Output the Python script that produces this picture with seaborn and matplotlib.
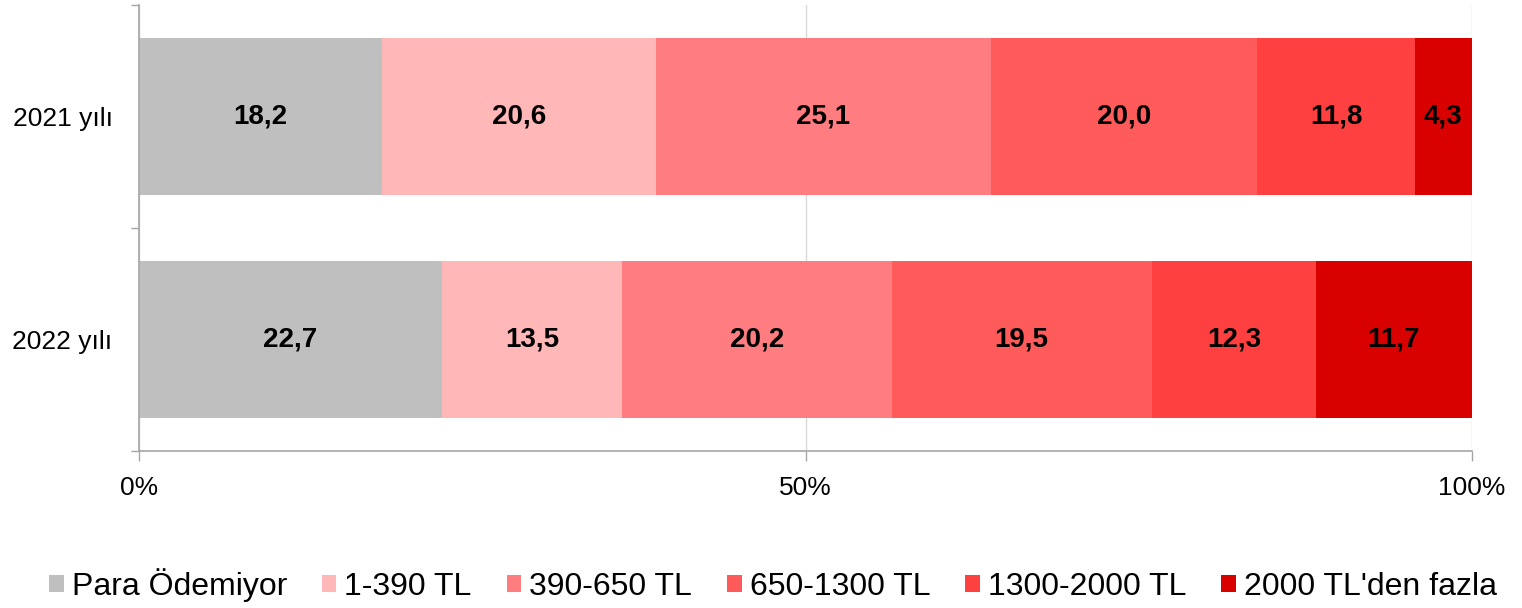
import matplotlib
matplotlib.use("Agg")
import matplotlib.pyplot as plt
import seaborn as sns
import numpy as np
import pandas as pd
from matplotlib.patches import Patch

years = ["2021 yılı", "2022 yılı"]
categories = ["Para Ödemiyor", "1-390 TL", "390-650 TL", "650-1300 TL", "1300-2000 TL", "2000 TL'den fazla"]
values_2021 = [18.2, 20.6, 25.1, 20.0, 11.8, 4.3]
values_2022 = [22.7, 13.5, 20.2, 19.5, 12.3, 11.7]
labels_2021 = ["18,2", "20,6", "25,1", "20,0", "11,8", "4,3"]
labels_2022 = ["22,7", "13,5", "20,2", "19,5", "12,3", "11,7"]
colors = ["#BFBFBF", "#FFB7B7", "#FF7C80", "#FF5B5B", "#FF4040", "#D90000"]
xticks = [0, 50, 100]
xticklabels = ["0%", "50%", "100%"]

sns.set_theme(style="white")
plt.rcParams["font.family"] = ["Liberation Sans", "DejaVu Sans"]
plt.rcParams["text.color"] = "black"
plt.rcParams["xtick.labelcolor"] = "black"
plt.rcParams["ytick.labelcolor"] = "black"

vals = np.array([values_2021, values_2022])
pct = vals / vals.sum(axis=1, keepdims=True) * 100
cum = np.cumsum(pct, axis=1)
lab = [labels_2021, labels_2022]

fig = plt.figure(figsize=(15.22, 6.08), dpi=100)
ax = fig.add_axes([139/1522, 1-451/608, (1472-139)/1522, (451-5)/608])

for j in range(len(categories) - 1, -1, -1):
    df = pd.DataFrame({"year": years, "v": cum[:, j]})
    sns.barplot(data=df, x="v", y="year", orient="h", color=colors[j], width=0.70,
                saturation=1, ax=ax, edgecolor="none", linewidth=0, zorder=2)

for i in range(len(years)):
    for j in range(len(categories)):
        start = cum[i, j] - pct[i, j]
        ax.text(start + pct[i, j] / 2, i, lab[i][j], ha="center", va="center",
                fontsize=20, fontweight="bold", color="black", zorder=5)

ax.set_xlim(0, 100)
ax.set_ylim(1.5, -0.5)
ax.set_xticks(xticks)
ax.set_xticklabels(xticklabels, fontsize=19)
ax.set_yticks([0, 1])
ax.set_yticklabels(years, fontsize=19)
ax.set_yticks([-0.5, 0.5, 1.5], minor=True)
ax.set_xlabel("")
ax.set_ylabel("")
ax.tick_params(axis="y", which="major", length=0, pad=19)
ax.tick_params(axis="y", which="minor", length=6, width=1, color="#A6A6A6", left=True)
ax.tick_params(axis="x", which="major", length=7, width=1, color="#A6A6A6", bottom=True, pad=11)
ax.grid(axis="x", color="#D9D9D9", linewidth=1, zorder=0)
ax.set_axisbelow(True)
for s in ["top", "right"]:
    ax.spines[s].set_visible(False)
for s in ["left", "bottom"]:
    ax.spines[s].set_color("#A6A6A6")
    ax.spines[s].set_linewidth(1.2)
    ax.spines[s].set_zorder(3)

handles = [Patch(facecolor=c, edgecolor="none") for c in colors]
fig.legend(handles, categories, loc="center", bbox_to_anchor=(773/1522, 1-585/608), ncol=6,
           frameon=False, fontsize=23, handlelength=0.45, handleheight=0.45,
           handletextpad=0.25, columnspacing=1.1, borderpad=0, borderaxespad=0)

fig.savefig("out.png", dpi=100)
